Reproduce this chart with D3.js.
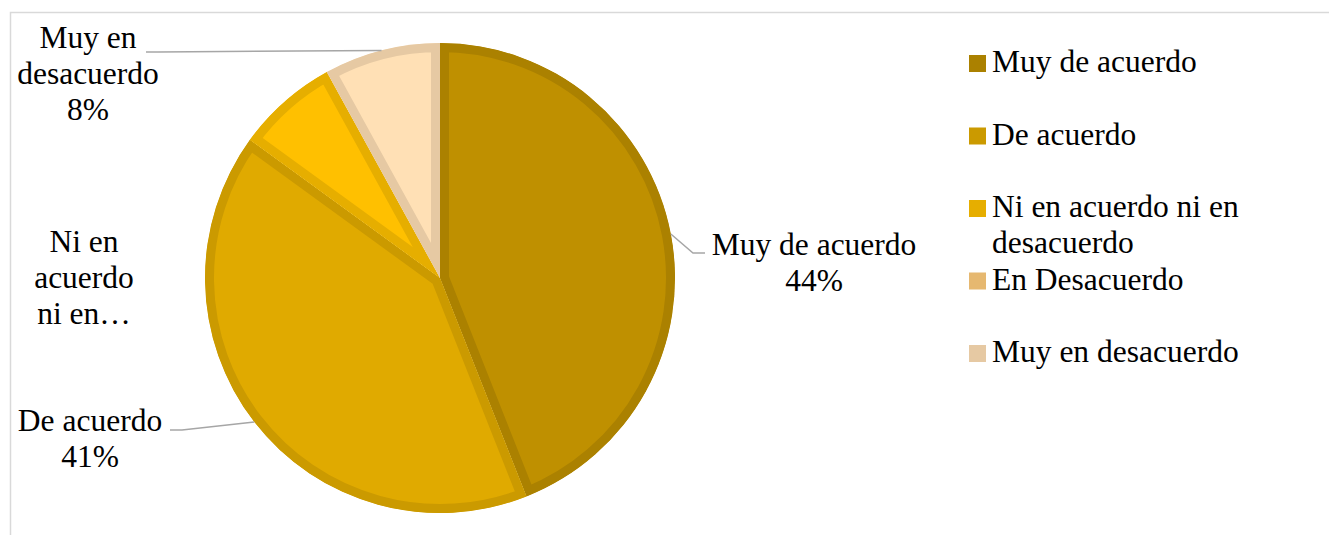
<!DOCTYPE html>
<html>
<head>
<meta charset="utf-8">
<script src="https://cdn.jsdelivr.net/npm/d3@7"></script>
<style>
  body { margin: 0; background: #fff; }
</style>
</head>
<body>
<svg id="chart" width="1329" height="535"></svg>
<script>
// categories and shares (percent)
const categories = ["Muy de acuerdo", "De acuerdo", "Ni en acuerdo ni en desacuerdo", "En Desacuerdo", "Muy en desacuerdo"];
const percents = [44, 41, 7, 0, 8];

// data label text per slice (Excel truncated the third one)
const labelText = [
  ["Muy de acuerdo", "44%"],
  ["De acuerdo", "41%"],
  ["Ni en", "acuerdo", "ni en\u2026"],
  [],
  ["Muy en", "desacuerdo", "8%"]
];

// colours
const fills   = ["#BF9000", "#E0AA00", "#FFC000", "#F5CB8C", "#FFE0B5"];
const borders = ["#AB8100", "#CB9A00", "#E6AE00", "#E6B870", "#E6C9A3"];

// where the labels sit (center x, first baseline, leader elbow + end)
const labelLayout = [
  { x: 814, y: 255, leader: [[693, 253], [705, 253]] },
  { x: 90,  y: 431, leader: [[182, 430], [170, 430]] },
  { x: 84,  y: 252, leader: null },
  null,
  { x: 88,  y: 48,  leader: [[158, 52], [146, 52]] }
];

const svg = d3.select("#chart");
const fontSize = 31.5, lineH = 36;
const serif = "'Liberation Serif', 'Times New Roman', Tinos, 'DejaVu Serif', serif";

// light frame around the chart area
svg.append("rect")
  .attr("x", 10.5).attr("y", 12.5)
  .attr("width", 1400).attr("height", 600)
  .attr("fill", "none")
  .attr("stroke", "#d9d9d9")
  .attr("stroke-width", 1.5);

const cx = 440, cy = 278, R = 235;

const pie = d3.pie().sort(null).value(d => d);
const arcs = pie(percents);
const arc = d3.arc().innerRadius(0).outerRadius(R);
const edge = d3.arc().innerRadius(R).outerRadius(R);

const g = svg.append("g").attr("transform", `translate(${cx},${cy})`);
const defs = svg.append("defs");

arcs.forEach((d, i) => {
  if (d.value === 0) return;
  defs.append("clipPath").attr("id", "clip" + i)
    .append("path").attr("d", arc(d));
  // border drawn inside each slice
  g.append("path")
    .attr("d", arc(d))
    .attr("fill", fills[i])
    .attr("stroke", borders[i])
    .attr("stroke-width", 18)
    .attr("stroke-linejoin", "round")
    .attr("clip-path", `url(#clip${i})`);
});

// leader lines + data labels
arcs.forEach((d, i) => {
  const lay = labelLayout[i];
  if (!lay) return;
  if (lay.leader) {
    const p = edge.centroid(d);
    const pts = [[p[0] + cx, p[1] + cy]].concat(lay.leader);
    svg.append("path")
      .attr("d", d3.line()(pts))
      .attr("fill", "none")
      .attr("stroke", "#a6a6a6")
      .attr("stroke-width", 1.5);
  }
  const t = svg.append("text")
    .attr("text-anchor", "middle")
    .attr("font-family", serif)
    .attr("font-size", fontSize)
    .attr("fill", "#000");
  labelText[i].forEach((s, k) => {
    t.append("tspan").attr("x", lay.x).attr("y", lay.y + k * lineH).text(s);
  });
});

// legend
const legendY = d3.scalePoint().domain(d3.range(categories.length)).range([72, 362]);
const legendLines = [["Muy de acuerdo"], ["De acuerdo"], ["Ni en acuerdo ni en", "desacuerdo"], ["En Desacuerdo"], ["Muy en desacuerdo"]];

categories.forEach((c, i) => {
  const y = legendY(i);
  svg.append("rect")
    .attr("x", 969).attr("y", y - 17)
    .attr("width", 17).attr("height", 17)
    .attr("fill", borders[i]);
  const t = svg.append("text")
    .attr("font-family", serif)
    .attr("font-size", fontSize)
    .attr("fill", "#000");
  legendLines[i].forEach((s, k) => {
    t.append("tspan").attr("x", 992).attr("y", y + k * lineH).text(s);
  });
});
</script>
</body>
</html>
